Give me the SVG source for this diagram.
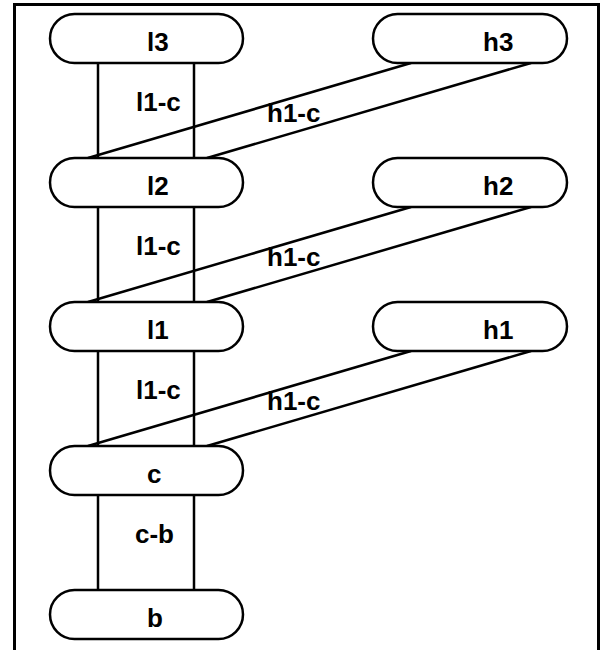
<svg xmlns="http://www.w3.org/2000/svg" width="605" height="650" viewBox="0 0 605 650">
<style>
.n{fill:#fff;stroke:#000;stroke-width:2.5}
.e{stroke:#000;stroke-width:2.5;fill:none}
text{font-family:"Liberation Sans",Arial,sans-serif;font-weight:bold;font-size:26px;fill:#000}
</style>
<rect x="0" y="0" width="605" height="650" fill="#fff"/>
<rect x="14.5" y="4.5" width="584" height="660" fill="none" stroke="#000" stroke-width="3"/>
<g id="connectors">
<line class="e" x1="98" y1="63" x2="98" y2="158"/>
<line class="e" x1="194" y1="63" x2="194" y2="158"/>
<line class="e" x1="411" y1="63" x2="88" y2="158"/>
<line class="e" x1="531" y1="63" x2="207" y2="158"/>
<text x="136" y="111">l1-c</text>
<text x="267" y="122">h1-c</text>
<line class="e" x1="98" y1="207" x2="98" y2="302"/>
<line class="e" x1="194" y1="207" x2="194" y2="302"/>
<line class="e" x1="411" y1="207" x2="88" y2="302"/>
<line class="e" x1="531" y1="207" x2="207" y2="302"/>
<text x="136" y="255">l1-c</text>
<text x="267" y="266">h1-c</text>
<line class="e" x1="98" y1="351" x2="98" y2="446"/>
<line class="e" x1="194" y1="351" x2="194" y2="446"/>
<line class="e" x1="411" y1="351" x2="88" y2="446"/>
<line class="e" x1="531" y1="351" x2="207" y2="446"/>
<text x="136" y="399">l1-c</text>
<text x="267" y="410">h1-c</text>
<line class="e" x1="98" y1="495" x2="98" y2="590"/>
<line class="e" x1="194" y1="495" x2="194" y2="590"/>
<text x="135" y="543">c-b</text>
</g>
<g id="l3"><rect class="n" x="50" y="14" width="193" height="49" rx="24.5"/><text x="147" y="51">l3</text></g>
<g id="h3"><rect class="n" x="373" y="14" width="194" height="49" rx="24.5"/><text x="483" y="51">h3</text></g>
<g id="l2"><rect class="n" x="50" y="158" width="193" height="49" rx="24.5"/><text x="147" y="195">l2</text></g>
<g id="h2"><rect class="n" x="373" y="158" width="194" height="49" rx="24.5"/><text x="483" y="195">h2</text></g>
<g id="l1"><rect class="n" x="50" y="302" width="193" height="49" rx="24.5"/><text x="147" y="339">l1</text></g>
<g id="h1"><rect class="n" x="373" y="302" width="194" height="49" rx="24.5"/><text x="483" y="339">h1</text></g>
<g id="c"><rect class="n" x="50" y="446" width="193" height="49" rx="24.5"/><text x="147" y="483">c</text></g>
<g id="b"><rect class="n" x="50" y="590" width="193" height="49" rx="24.5"/><text x="147" y="627">b</text></g>
</svg>
